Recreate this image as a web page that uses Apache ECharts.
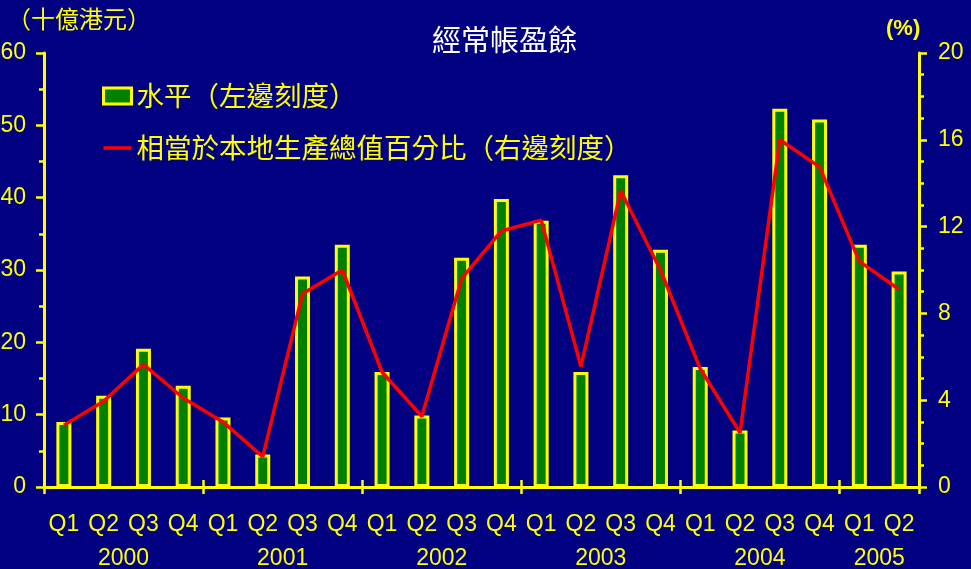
<!DOCTYPE html>
<html>
<head>
<meta charset="utf-8">
<script src="https://cdn.jsdelivr.net/npm/echarts@6/dist/echarts.min.js"></script>
<style>
html,body{margin:0;padding:0;background:#000080;}
#chart{width:971px;height:569px;}
</style>
</head>
<body>
<div id="chart"></div>
<script>
var quarters = ['Q1','Q2','Q3','Q4','Q1','Q2','Q3','Q4','Q1','Q2','Q3','Q4','Q1','Q2','Q3','Q4','Q1','Q2','Q3','Q4','Q1','Q2'];
var years = ['2000','2001','2002','2003','2004','2005'];
var quartersPerYear = [4,4,4,4,4,2];
var levelValues = [9.0,12.6,19.1,14.0,9.6,4.5,29.1,33.5,15.9,9.9,31.7,39.8,36.8,15.9,43.1,32.8,16.6,7.8,52.3,50.8,33.5,29.8];
var gdpPctValues = [2.85,3.95,5.65,4.1,3.0,1.4,8.9,10.0,5.3,3.25,9.6,11.8,12.3,5.55,13.65,10.0,5.45,2.5,16.0,14.75,10.4,9.1];
var leftTicks = [0,10,20,30,40,50,60];
var rightTicks = [0,4,8,12,16,20];

var titleText = '經常帳盈餘';
var leftUnit = '（十億港元）';
var rightUnit = '(%)';
var barName = '水平（左邊刻度）';
var lineName = '相當於本地生產總值百分比（右邊刻度）';

// year label positions (middle of each year's group) and boundaries
var yearMid = [], yearBounds = [0], acc = 0;
quartersPerYear.forEach(function(n){ yearMid.push(acc + n/2); acc += n; yearBounds.push(acc); });
var yearInner = yearBounds.slice(1, yearBounds.length - 1);

var YEL = '#ffff00';
var CJK = '"Noto Sans CJK TC","Noto Sans CJK SC",sans-serif';
var LAT = '"Liberation Sans",Arial,sans-serif';

var chart = echarts.init(document.getElementById('chart'));
chart.setOption({
  backgroundColor: '#000080',
  animation: false,
  title: [
    { text: titleText, left: 427, top: 20, textStyle: { color: '#ffffff', fontSize: 29, fontWeight: 'normal', fontFamily: CJK } },
    { text: leftUnit, left: 2, top: 2, textStyle: { color: YEL, fontSize: 24, fontWeight: 'normal', fontFamily: CJK } },
    { text: rightUnit, left: 881, top: 13, textStyle: { color: YEL, fontSize: 22, fontWeight: 'bold', fontFamily: LAT } }
  ],
  legend: {
    orient: 'vertical', left: 102, top: 80, padding: 0, itemGap: 20,
    itemWidth: 28, itemHeight: 16, symbolKeepAspect: true,
    textStyle: { color: YEL, fontSize: 27.5, fontFamily: CJK, lineHeight: 26, padding: [6, 0, 0, 0] },
    data: [
      { name: barName, icon: 'rect', itemStyle: { color: '#008000', borderColor: YEL, borderWidth: 3 } },
      { name: lineName, icon: 'path://M0,0 L28,0 L28,3.5 L0,3.5 Z', itemStyle: { color: '#ff0000', borderWidth: 0 } }
    ]
  },
  grid: { left: 44, right: 52, top: 53, bottom: 82, containLabel: false, outerBoundsMode: 'none' },
  xAxis: [
    {
      type: 'category', data: quarters, position: 'bottom', boundaryGap: true,
      axisLine: { show: true, onZero: false, lineStyle: { color: YEL, width: 3 } },
      axisTick: { show: false },
      axisLabel: { color: YEL, fontSize: 23, fontFamily: LAT, margin: 26, interval: 0 }
    },
    {
      type: 'value', min: 0, max: quarters.length, position: 'bottom',
      axisLine: { show: false, onZero: false },
      axisTick: { show: true, customValues: yearBounds, length: 7, inside: false, lineStyle: { color: YEL, width: 2.5 } },
      axisLabel: {
        show: true, customValues: yearMid, color: YEL, fontSize: 23, fontFamily: LAT, margin: 60,
        formatter: function(v){ var i = yearMid.indexOf(v); return i >= 0 ? years[i] : ''; }
      },
      splitLine: { show: false }
    },
    {
      type: 'value', min: 0, max: quarters.length, position: 'bottom',
      axisLine: { show: false, onZero: false },
      axisTick: { show: true, customValues: yearInner, length: 7, inside: true, lineStyle: { color: YEL, width: 2.5 } },
      axisLabel: { show: false },
      splitLine: { show: false }
    }
  ],
  yAxis: [
    {
      type: 'value', min: leftTicks[0], max: leftTicks[leftTicks.length-1], interval: leftTicks[1]-leftTicks[0], position: 'left',
      axisLine: { show: true, onZero: false, lineStyle: { color: YEL, width: 3 } },
      axisTick: { show: true, length: 8, lineStyle: { color: YEL, width: 2.5 } },
      minorTick: { show: true, splitNumber: 2, length: 5, lineStyle: { color: YEL, width: 2.5 } },
      axisLabel: { color: YEL, fontSize: 23, fontFamily: LAT, margin: 18 },
      splitLine: { show: false }
    },
    {
      type: 'value', min: rightTicks[0], max: rightTicks[rightTicks.length-1], interval: rightTicks[1]-rightTicks[0], position: 'right',
      axisLine: { show: true, onZero: false, lineStyle: { color: YEL, width: 3 } },
      axisTick: { show: true, length: 8, lineStyle: { color: YEL, width: 2.5 } },
      minorTick: { show: true, splitNumber: 4, length: 5, lineStyle: { color: YEL, width: 2.5 } },
      axisLabel: { color: YEL, fontSize: 23, fontFamily: LAT, margin: 19 },
      splitLine: { show: false }
    }
  ],
  series: [
    {
      name: barName, type: 'bar', xAxisIndex: 0, yAxisIndex: 0, data: levelValues,
      barWidth: 15,
      itemStyle: { color: '#008000', borderColor: YEL, borderWidth: 3 }
    },
    {
      name: lineName, type: 'line', xAxisIndex: 0, yAxisIndex: 1, data: gdpPctValues,
      symbol: 'none', lineStyle: { color: '#ff0000', width: 3.5 }, itemStyle: { color: '#ff0000' },
      z: 5
    }
  ]
});
</script>
</body>
</html>
